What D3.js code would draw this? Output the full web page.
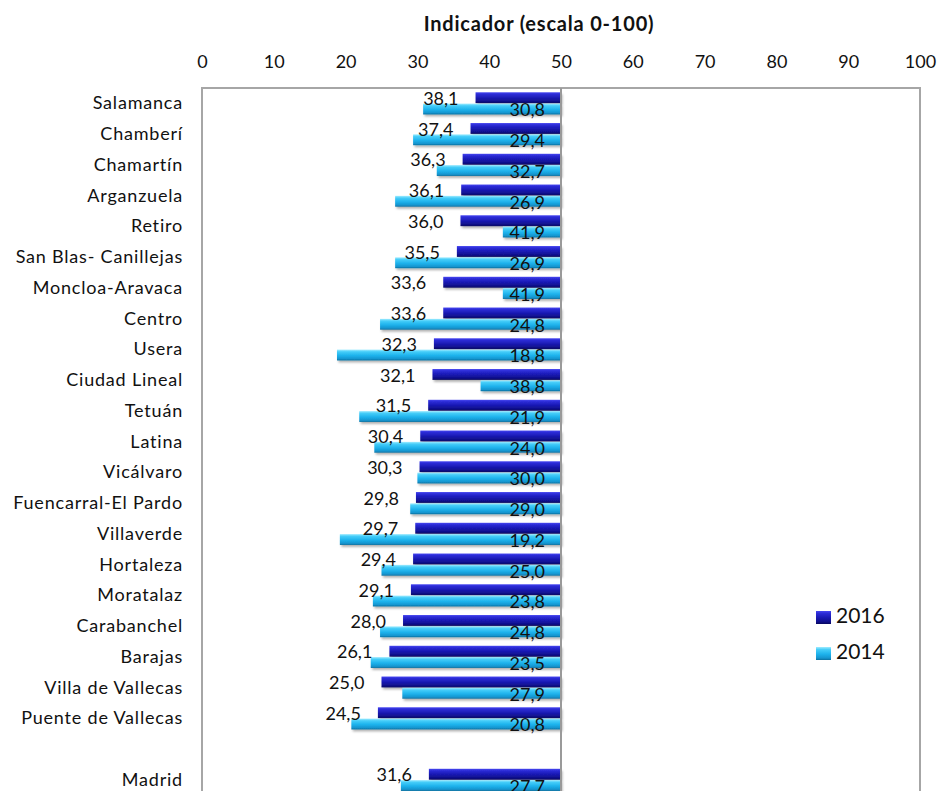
<!DOCTYPE html>
<html>
<head>
<meta charset="utf-8">
<script src="https://cdn.jsdelivr.net/npm/d3@7"></script>
<style>
  body { margin: 0; background: #fff; }
  svg { display: block; font-family: Lato, "Open Sans", sans-serif; }
</style>
</head>
<body>
<svg id="chart" width="940" height="791"></svg>
<script>
const categories = [
  "Salamanca", "Chamberí", "Chamartín", "Arganzuela", "Retiro",
  "San Blas- Canillejas", "Moncloa-Aravaca", "Centro", "Usera", "Ciudad Lineal",
  "Tetuán", "Latina", "Vicálvaro", "Fuencarral-El Pardo", "Villaverde",
  "Hortaleza", "Moratalaz", "Carabanchel", "Barajas", "Villa de Vallecas",
  "Puente de Vallecas", "", "Madrid"
];
const values2016 = [
  38.1, 37.4, 36.3, 36.1, 36.0, 35.5, 33.6, 33.6, 32.3, 32.1,
  31.5, 30.4, 30.3, 29.8, 29.7, 29.4, 29.1, 28.0, 26.1, 25.0,
  24.5, null, 31.6
];
const values2014 = [
  30.8, 29.4, 32.7, 26.9, 41.9, 26.9, 41.9, 24.8, 18.8, 38.8,
  21.9, 24.0, 30.0, 29.0, 19.2, 25.0, 23.8, 24.8, 23.5, 27.9,
  20.8, null, 27.7
];
const xTicks = [0, 10, 20, 30, 40, 50, 60, 70, 80, 90, 100];
const seriesNames = ["2016", "2014"];

const svg = d3.select("#chart");
const plot = { left: 202, right: 920, top: 88, step: 30.75 };
const baseValue = 50;
const fmt = (v) => v.toFixed(1).replace(".", ",");

// keys for the band scale (the empty row needs a unique key)
const keys = categories.map((c, i) => i);

const x = d3.scaleLinear().domain([0, 100]).range([plot.left, plot.right]);
const y = d3.scaleBand()
  .domain(keys)
  .range([plot.top, plot.top + plot.step * keys.length])
  .paddingInner(0.25)
  .paddingOuter(0.125);
const ySub = d3.scaleBand().domain(seriesNames).range([0, y.bandwidth()]).padding(0.04);

const defs = svg.append("defs");
const gradStops = {
  "2016": [[0, "#4646f0"], [0.18, "#2c2cd6"], [0.5, "#1a1ab4"], [0.82, "#10108c"], [1, "#07075e"]],
  "2014": [[0, "#a0ecff"], [0.2, "#45cdf9"], [0.55, "#1db2ec"], [0.85, "#1595cf"], [1, "#0c6f9e"]]
};
seriesNames.forEach((s) => {
  const g = defs.append("linearGradient")
    .attr("id", "grad" + s).attr("x1", 0).attr("y1", 0).attr("x2", 0).attr("y2", 1);
  gradStops[s].forEach(([o, c]) => g.append("stop").attr("offset", o).attr("stop-color", c));
});
const shadow = defs.append("filter").attr("id", "shadow")
  .attr("x", "-5%").attr("y", "-30%").attr("width", "115%").attr("height", "180%");
shadow.append("feDropShadow").attr("dx", 1.5).attr("dy", 2).attr("stdDeviation", 1.2)
  .attr("flood-color", "#000").attr("flood-opacity", 0.3);

// title
svg.append("text")
  .attr("x", 539).attr("y", 31)
  .attr("text-anchor", "middle")
  .attr("font-weight", "bold").attr("font-size", 20)
  .attr("letter-spacing", 0.8)
  .attr("fill", "#111")
  .text("Indicador (escala 0-100)");

// top axis (labels only)
const xAxis = svg.append("g")
  .attr("transform", "translate(0,74)")
  .call(d3.axisTop(x).tickValues(xTicks).tickSize(0).tickPadding(6));
xAxis.select(".domain").remove();
xAxis.selectAll("text").attr("font-size", 18).attr("font-family", "Lato").attr("fill", "#111");

// plot frame
svg.append("rect")
  .attr("x", plot.left).attr("y", plot.top)
  .attr("width", plot.right - plot.left)
  .attr("height", plot.step * keys.length + 20)
  .attr("fill", "none").attr("stroke", "#a6a6a6").attr("stroke-width", 2);

// category labels
svg.append("g").selectAll("text")
  .data(keys)
  .join("text")
  .attr("x", 183)
  .attr("y", (k) => y(k) + y.bandwidth() / 2 + 6)
  .attr("text-anchor", "end")
  .attr("font-size", 18)
  .attr("letter-spacing", 0.8)
  .attr("fill", "#111")
  .text((k) => categories[k]);

const rows = keys.filter((k) => values2016[k] !== null);
const seriesData = {
  "2016": rows.map((k) => ({ k, v: values2016[k] })),
  "2014": rows.map((k) => ({ k, v: values2014[k] }))
};

// bars, drawn from the axis crossing at 50
seriesNames.forEach((s) => {
  svg.append("g").attr("filter", "url(#shadow)").selectAll("rect")
    .data(seriesData[s])
    .join("rect")
    .attr("x", (d) => x(Math.min(d.v, baseValue)))
    .attr("y", (d) => y(d.k) + ySub(s))
    .attr("width", (d) => Math.abs(x(baseValue) - x(d.v)))
    .attr("height", ySub.bandwidth())
    .attr("fill", "url(#grad" + s + ")");
});

// vertical axis at 50
svg.append("line")
  .attr("x1", x(baseValue)).attr("x2", x(baseValue))
  .attr("y1", plot.top).attr("y2", 791)
  .attr("stroke", "#9a9a9a").attr("stroke-width", 2);

// data labels
svg.append("g").selectAll("text")
  .data(seriesData["2016"])
  .join("text")
  .attr("x", (d) => x(d.v) - 17)
  .attr("y", (d) => y(d.k) + y.bandwidth() / 2 + 1.5)
  .attr("text-anchor", "end")
  .attr("font-size", 18)
  .attr("fill", "#111")
  .text((d) => fmt(d.v));

svg.append("g").selectAll("text")
  .data(seriesData["2014"])
  .join("text")
  .attr("x", x(baseValue) - 16)
  .attr("y", (d) => y(d.k) + y.bandwidth() / 2 + 13)
  .attr("text-anchor", "end")
  .attr("font-size", 18)
  .attr("fill", "#111")
  .text((d) => fmt(d.v));

// legend
const legend = svg.append("g").selectAll("g")
  .data(seriesNames)
  .join("g")
  .attr("transform", (d, i) => `translate(816,${611 + i * 36})`);
legend.append("rect")
  .attr("width", 15).attr("height", 13)
  .attr("fill", (d) => `url(#grad${d})`);
legend.append("text")
  .attr("x", 20).attr("y", 12)
  .attr("font-size", 21)
  .attr("fill", "#111")
  .text((d) => d);
</script>
</body>
</html>
